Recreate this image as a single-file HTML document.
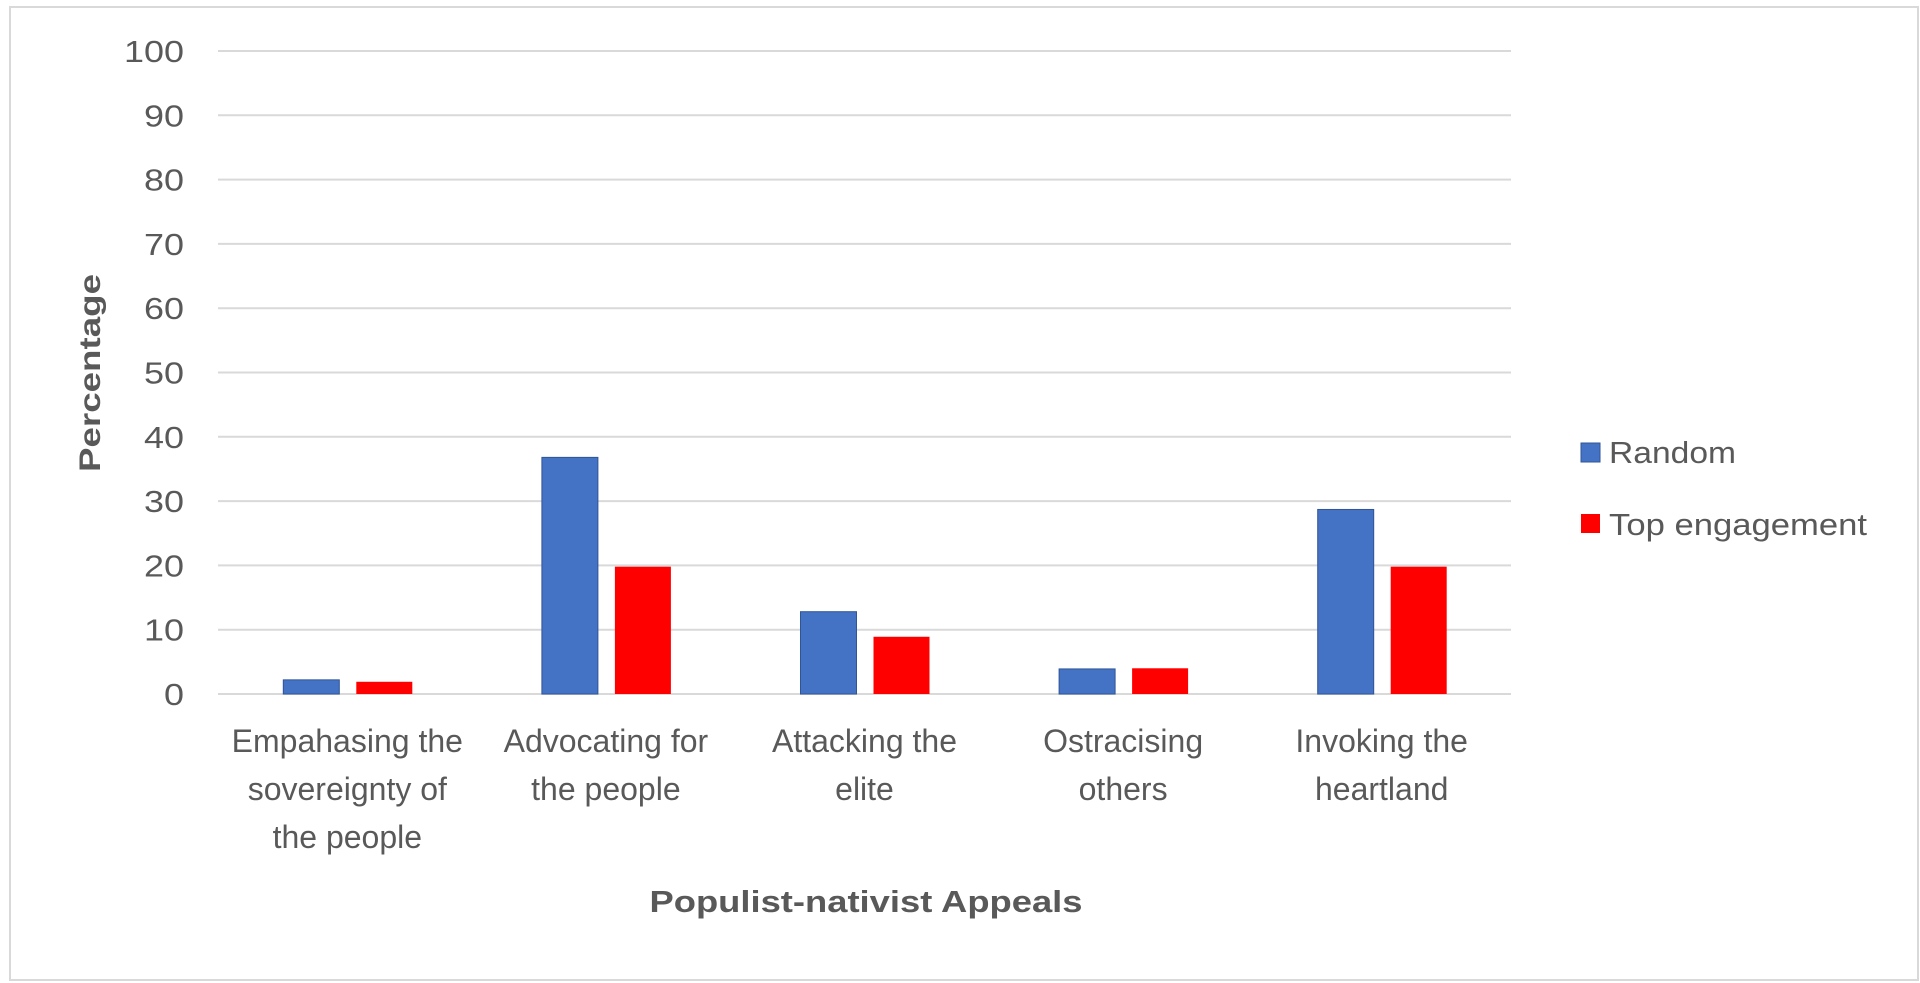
<!DOCTYPE html>
<html><head><meta charset="utf-8"><style>
html,body{margin:0;padding:0;background:#fff;}
svg{display:block;font-family:"Liberation Sans",Arial,sans-serif;}
</style></head><body>
<svg id="chart" width="1920" height="983" viewBox="0 0 1920 983">
<rect x="10" y="7" width="1908" height="973" fill="#fff" stroke="#d9d9d9" stroke-width="2"/>
<g id="grid"></g>
<g id="yticks"></g>
<g id="bars"></g>
<g id="xlabels"></g>
<text x="89" y="373" transform="rotate(-90 89 373) translate(0 11)" text-anchor="middle" font-size="30" font-weight="bold" fill="#595959" textLength="198" lengthAdjust="spacingAndGlyphs">Percentage</text>
<text x="866" y="912" text-anchor="middle" font-size="31" font-weight="bold" fill="#595959" textLength="433" lengthAdjust="spacingAndGlyphs">Populist-nativist Appeals</text>
<g>
<rect x="1581" y="443" width="19" height="19" fill="#4472c4" stroke="#2f5597" stroke-width="1"/>
<text x="1609" y="463" font-size="31" fill="#595959" textLength="127" lengthAdjust="spacingAndGlyphs">Random</text>
<rect x="1581" y="514" width="19" height="19" fill="#ff0000"/>
<text x="1609" y="535" font-size="31" fill="#595959" textLength="258" lengthAdjust="spacingAndGlyphs">Top engagement</text>
</g>
</svg>
<script>
const categories = [["Empahasing the","sovereignty of","the people"],["Advocating for","the people"],["Attacking the","elite"],["Ostracising","others"],["Invoking the","heartland"]];
const randomValues = [2.2, 36.8, 12.8, 3.9, 28.7];
const topValues = [1.9, 19.8, 8.9, 4.0, 19.8];
const tickValues = [0,10,20,30,40,50,60,70,80,90,100];

const NS = "http://www.w3.org/2000/svg";
const plotL = 218, plotR = 1511, y0 = 694, y100 = 51;
const yScale = v => y0 - (v/100)*(y0-y100);
const bandW = (plotR-plotL)/categories.length;
const xCenter = i => plotL + bandW*(i+0.5);
const barW = 56;

const grid = document.getElementById('grid');
const yt = document.getElementById('yticks');
tickValues.forEach(t => {
  const l = document.createElementNS(NS,'line');
  l.setAttribute('x1',plotL); l.setAttribute('x2',plotR);
  l.setAttribute('y1',yScale(t)); l.setAttribute('y2',yScale(t));
  l.setAttribute('stroke','#d9d9d9'); l.setAttribute('stroke-width','2');
  
  
  grid.appendChild(l);
  const tx = document.createElementNS(NS,'text');
  tx.setAttribute('x',184); tx.setAttribute('y',yScale(t)+11);
  tx.setAttribute('text-anchor','end'); tx.setAttribute('font-size','31');
  tx.setAttribute('fill','#595959');
  const s = String(t);
  tx.setAttribute('textLength', s.length*20);
  tx.setAttribute('lengthAdjust','spacingAndGlyphs');
  tx.textContent = t;
  
  
  yt.appendChild(tx);
});

const bars = document.getElementById('bars');
const xl = document.getElementById('xlabels');
categories.forEach((c,i) => {
  const cx = xCenter(i);
  const b = document.createElementNS(NS,'rect');
  b.setAttribute('x',cx-64); b.setAttribute('width',barW);
  b.setAttribute('y',yScale(randomValues[i])); b.setAttribute('height',y0-yScale(randomValues[i]));
  b.setAttribute('fill','#4472c4'); b.setAttribute('stroke','#2f5597'); b.setAttribute('stroke-width','1');
  
  
  bars.appendChild(b);
  const r = document.createElementNS(NS,'rect');
  r.setAttribute('x',cx+9); r.setAttribute('width',barW);
  r.setAttribute('y',yScale(topValues[i])); r.setAttribute('height',y0-yScale(topValues[i]));
  r.setAttribute('fill','#ff0000');
  
  
  bars.appendChild(r);
  c.forEach((line,j) => {
    const t = document.createElementNS(NS,'text');
    t.setAttribute('x',cx); t.setAttribute('y',752+48*j);
    t.setAttribute('text-anchor','middle'); t.setAttribute('font-size','32');
    t.setAttribute('fill','#595959');
    t.textContent = line;
    
    
    xl.appendChild(t);
  });
});
</script>
</body></html>
